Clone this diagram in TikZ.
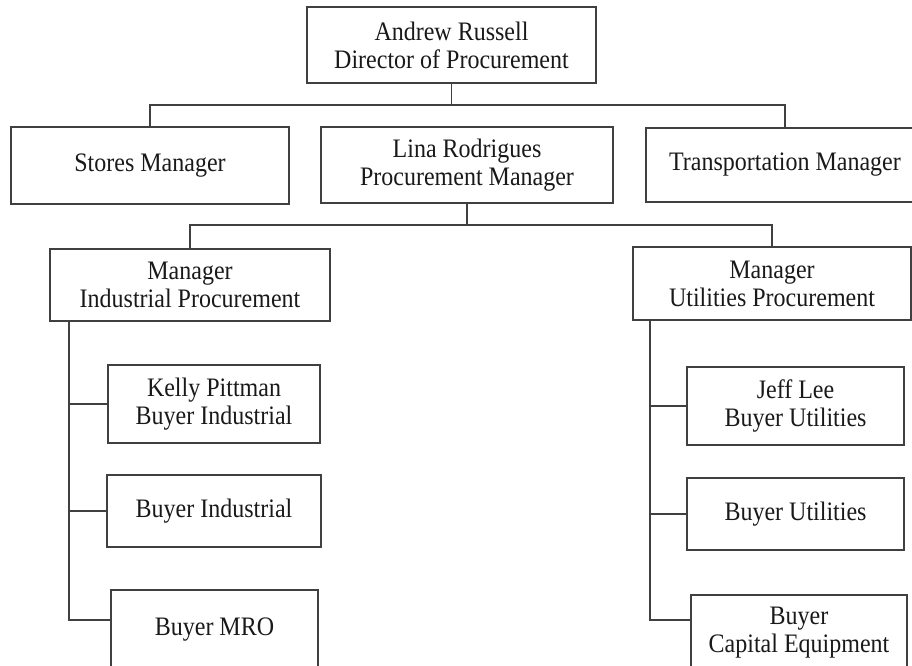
\documentclass[tikz,border=0pt]{standalone}
\usepackage{fontspec}
\setmainfont{Liberation Serif}[FakeStretch=0.9]
\usetikzlibrary{calc}

\begin{document}
\begin{tikzpicture}[x=0.75pt, y=-0.75pt,
  every node/.style={font=\fontsize{20}{21}\selectfont, text=black!90},
  orgbox/.style={draw=black!75, line width=1.2pt, fill=white, align=center, inner sep=0pt},
  boxsize/.style 2 args={minimum width=#1*0.75pt, minimum height=#2*0.75pt},
  link/.style={draw=black!75, line width=1.2pt}]
  \useasboundingbox (0,0) rectangle (912,665);
  \fill[white] (0,0) rectangle (912,665);
  % director and first level
  \node[orgbox, boxsize={289}{76}] (dir) at (451.5,45) {Andrew Russell\\Director of Procurement};
  \node[orgbox, boxsize={278}{77}] (stores) at (150,165.5) {Stores Manager};
  \node[orgbox, boxsize={292}{76}] (lina) at (467,165) {Lina Rodrigues\\Procurement Manager};
  \node[orgbox, boxsize={278}{74}] (transp) at (785,165) {Transportation Manager};
  % second level
  \node[orgbox, boxsize={280}{72}] (indmgr) at (190,285) {Manager\\Industrial Procurement};
  \node[orgbox, boxsize={278}{73}] (utilmgr) at (772,283.5) {Manager\\Utilities Procurement};
  % buyers, industrial side
  \node[orgbox, boxsize={212}{78}] (kelly) at (214,404) {Kelly Pittman\\Buyer Industrial};
  \node[orgbox, boxsize={214}{72}] (buyind) at (214,511) {Buyer Industrial};
  \node[orgbox, boxsize={207}{80}] (mro) at (214.5,630) {Buyer MRO};
  % buyers, utilities side
  \node[orgbox, boxsize={217}{78}] (jeff) at (795.5,406) {Jeff Lee\\Buyer Utilities};
  \node[orgbox, boxsize={217}{72}] (butil) at (795.5,514) {Buyer Utilities};
  \node[orgbox, boxsize={216}{76}] (capital) at (799,633) {Buyer\\Capital Equipment};

  % director bus
  \coordinate (bus1) at (0,105);
  \draw[link] (dir.south) -- (dir.south |- bus1);
  \draw[link] (stores.north) |- (transp.north |- bus1) -- (transp.north);
  % procurement manager bus
  \coordinate (bus2) at (0,225);
  \draw[link] (lina.south) -- (lina.south |- bus2);
  \draw[link] (indmgr.north) |- (utilmgr.north |- bus2) -- (utilmgr.north);
  % spines down to the buyers
  \coordinate (lspine) at ($(indmgr.south west)+(20,0)$);
  \draw[link] (lspine) |- ($(mro.north west)+(0,31)$);
  \foreach \n in {kelly,buyind}
    \draw[link] (lspine |- \n.west) -- (\n.west);
  \coordinate (rspine) at ($(utilmgr.south west)+(18,0)$);
  \draw[link] (rspine) |- ($(capital.north west)+(0,26)$);
  \foreach \n in {jeff,butil}
    \draw[link] (rspine |- \n.west) -- (\n.west);
\end{tikzpicture}
\end{document}
